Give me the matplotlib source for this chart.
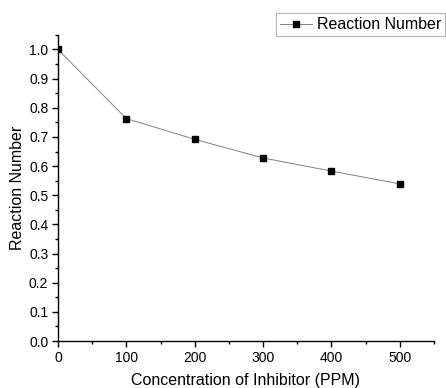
import matplotlib
matplotlib.use("Agg")
import matplotlib.pyplot as plt
from matplotlib.ticker import MultipleLocator

concentration = [0, 100, 200, 300, 400, 500]
reaction_number = [1.0, 0.763, 0.692, 0.628, 0.583, 0.539]

plt.rcParams["font.family"] = ["Liberation Sans", "DejaVu Sans"]

fig = plt.figure(figsize=(4.46, 3.88), dpi=100)
ax = fig.add_axes([0.130, 0.121, 0.843, 0.789])

ax.plot(concentration, reaction_number, color="#808080", linewidth=0.7,
        marker="s", markersize=5, markerfacecolor="black", markeredgecolor="black",
        label="Reaction Number")

ax.set_xlim(0, 550)
ax.set_ylim(0, 1.05)
ax.xaxis.set_major_locator(MultipleLocator(100))
ax.xaxis.set_minor_locator(MultipleLocator(50))
ax.yaxis.set_major_locator(MultipleLocator(0.1))
ax.yaxis.set_minor_locator(MultipleLocator(0.05))
ax.yaxis.set_major_formatter(lambda v, _: f"{v:.1f}")

for side in ("top", "right"):
    ax.spines[side].set_visible(False)
for side in ("left", "bottom"):
    ax.spines[side].set_linewidth(1.0)

ax.tick_params(which="major", direction="out", length=4, width=1, labelsize=10, pad=3)
ax.tick_params(which="minor", direction="out", length=2, width=1)

ax.set_xlabel("Concentration of Inhibitor (PPM)", fontsize=11.5, labelpad=6)
ax.set_ylabel("Reaction Number", fontsize=11.5, labelpad=3)

leg = fig.legend(loc="upper right", bbox_to_anchor=(0.998, 0.966), fontsize=11.5,
                 frameon=True, fancybox=False, handlelength=2.0, borderpad=0.25,
                 handletextpad=0.3, borderaxespad=0)
leg.get_frame().set_edgecolor("#a0a0a0")
leg.get_frame().set_linewidth(0.8)

fig.savefig("out.png", dpi=100)
